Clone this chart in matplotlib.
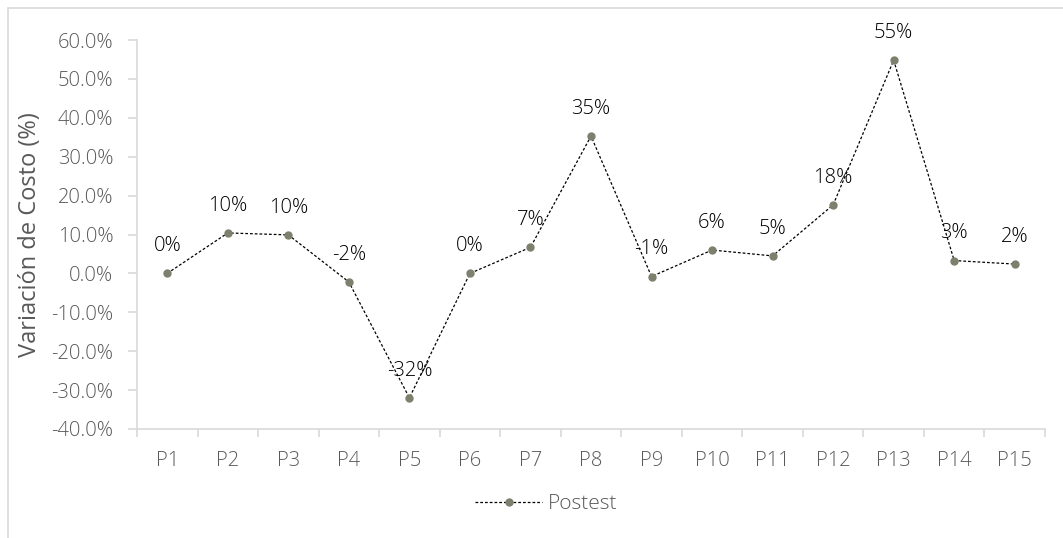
import matplotlib
matplotlib.use("Agg")
import matplotlib.pyplot as plt
from matplotlib.patches import Rectangle
from matplotlib.ticker import FuncFormatter, FixedLocator
import numpy as np

categories = ["P1", "P2", "P3", "P4", "P5", "P6", "P7", "P8", "P9", "P10",
              "P11", "P12", "P13", "P14", "P15"]
postest = [0.0, 10.4, 9.9, -2.2, -32.0, 0.0, 6.7, 35.3, -0.8, 6.0,
           4.5, 17.6, 54.8, 3.3, 2.4]
labels = ["0%", "10%", "10%", "-2%", "-32%", "0%", "7%", "35%", "-1%", "6%",
          "5%", "18%", "55%", "3%", "2%"]
series_name = "Postest"
y_title = "Variación de Costo (%)"

plt.rcParams["font.family"] = ["Open Sans", "DejaVu Sans"]
plt.rcParams["font.weight"] = "light"

grey_text = "#595959"
axis_col = "#D9D9D9"
marker_col = "#7E806E"

fig = plt.figure(figsize=(10.63, 5.38), dpi=100)
fig.patches.append(Rectangle((8 / 1063, -0.1), 1.2, 1 - 8 / 538 + 0.1,
                             transform=fig.transFigure, fill=False,
                             edgecolor=axis_col, linewidth=1.2))

ax = fig.add_axes([137 / 1063, 1 - 429 / 538, (1045 - 137) / 1063, (429 - 40) / 538])

x = np.arange(len(categories))
vals = np.array(postest) / 100.0
ax.plot(x, vals, color="black", linewidth=0.9, linestyle=(0, (2.2, 1.6)),
        marker="o", markersize=5, markerfacecolor=marker_col,
        markeredgecolor=marker_col, label=series_name)

for xi, v, t in zip(x, vals, labels):
    ax.annotate(t, (xi, v), xytext=(0, 19.5), textcoords="offset points",
                ha="center", va="center", fontsize=14.5, color="black")


def pct(v, pos):
    v = round(v * 100, 1)
    if v == 0:
        v = 0.0
    return f"{v:.1f}%"


ax.set_xlim(-0.5, len(categories) - 0.5)
ax.set_ylim(-0.4, 0.6)
ax.set_yticks(np.linspace(-0.4, 0.6, 11))
ax.yaxis.set_major_formatter(FuncFormatter(pct))
ax.set_xticks(x)
ax.set_xticklabels(categories)
ax.xaxis.set_minor_locator(FixedLocator(np.arange(-0.5, len(categories), 1.0)))

for s in ["top", "right"]:
    ax.spines[s].set_visible(False)
for s in ["left", "bottom"]:
    ax.spines[s].set_color(axis_col)
    ax.spines[s].set_linewidth(1.2)

ax.tick_params(axis="y", colors=axis_col, length=6.5, width=1.2, labelcolor=grey_text,
               labelsize=14.5, pad=10.5)
ax.tick_params(axis="x", which="major", length=0, labelcolor=grey_text,
               labelsize=14.5, pad=15.5)
ax.tick_params(axis="x", which="minor", colors=axis_col, length=5.5, width=1.2)

ax.set_ylabel(y_title, fontsize=17, color=grey_text, va="center")
ax.yaxis.set_label_coords(-107 / 908, 0.5)

leg = fig.legend(loc="center", bbox_to_anchor=(0.514, 1 - 504 / 538), frameon=False,
                 fontsize=15, handlelength=3.2, handletextpad=0.3, labelcolor=grey_text)

fig.savefig("out.png", dpi=100)
